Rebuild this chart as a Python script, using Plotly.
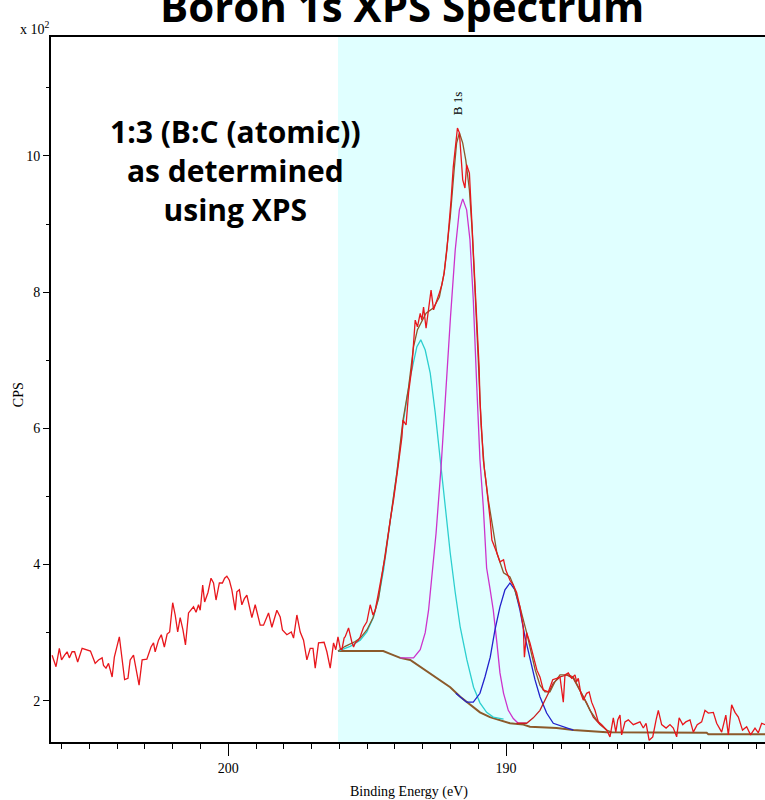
import plotly.graph_objects as go

# ---- measured spectrum (binding energy in eV, counts in units of 100 CPS) ----
raw_ev = [206.34, 206.20, 206.08, 206.00, 205.89, 205.80, 205.72, 205.62, 205.53, 205.42,
          205.26, 205.11, 204.96, 204.79, 204.67, 204.54, 204.49, 204.40, 204.31, 204.18,
          204.10, 203.92, 203.73, 203.61, 203.53, 203.41, 203.21, 203.10, 202.93, 202.78,
          202.69, 202.63, 202.51, 202.41, 202.30, 202.20, 202.11, 202.00, 201.91, 201.82,
          201.73, 201.63, 201.54, 201.43, 201.25, 201.16, 201.07, 201.01, 200.92, 200.85,
          200.73, 200.62, 200.53, 200.44, 200.32, 200.21, 200.13, 200.05, 199.96, 199.87,
          199.75, 199.69, 199.60, 199.51, 199.42, 199.33, 199.23, 199.15, 199.03, 198.85,
          198.73, 198.55, 198.43, 198.25, 198.13, 198.05, 197.89, 197.73, 197.65, 197.53,
          197.41, 197.29, 197.17, 197.05, 196.95, 196.87, 196.75, 196.55, 196.45, 196.33,
          196.21, 196.13, 196.05, 195.97, 195.91, 195.83, 195.79, 195.67, 195.55, 195.49,
          195.43, 195.31, 195.25, 195.13, 195.01, 194.89, 194.79, 194.71, 194.59, 194.47,
          194.35, 194.17, 194.05, 193.87, 193.75, 193.71, 193.60, 193.51, 193.39, 193.33,
          193.27, 193.19, 193.09, 193.03, 192.97, 192.88, 192.79, 192.70, 192.61, 192.52,
          192.40, 192.31, 192.23, 192.13, 192.05, 191.98, 191.90, 191.81, 191.75, 191.68,
          191.62, 191.56, 191.48, 191.42, 191.32, 191.27, 191.20, 191.15, 191.08, 191.03,
          190.97, 190.94, 190.87, 190.82, 190.73, 190.64, 190.57, 190.51, 190.43, 190.33,
          190.22, 190.09, 190.01, 189.86, 189.74, 189.62, 189.50, 189.38, 189.34, 189.26,
          189.14, 189.02, 188.89, 188.78, 188.66, 188.48, 188.32, 188.18, 188.06, 187.94,
          187.88, 187.76, 187.64, 187.52, 187.46, 187.40, 187.31, 187.22, 187.10, 187.01,
          186.92, 186.80, 186.68, 186.56, 186.38, 186.26, 186.14, 186.05, 185.98, 185.90,
          185.84, 185.72, 185.60, 185.42, 185.18, 185.06, 184.96, 184.85, 184.72, 184.60,
          184.52, 184.40, 184.24, 184.10, 183.98, 183.86, 183.77, 183.64, 183.53, 183.38,
          183.26, 183.12, 182.96, 182.84, 182.72, 182.54, 182.42, 182.24, 182.09, 182.00,
          181.88, 181.76, 181.64, 181.49, 181.34, 181.20, 181.04, 180.92, 180.80, 180.68]
raw_cps = [2.67, 2.50, 2.77, 2.60, 2.67, 2.72, 2.63, 2.72, 2.72, 2.57,
           2.77, 2.75, 2.73, 2.55, 2.60, 2.63, 2.52, 2.48, 2.55, 2.35,
           2.64, 2.94, 2.31, 2.33, 2.60, 2.67, 2.23, 2.60, 2.61, 2.79,
           2.85, 2.72, 2.89, 2.97, 2.79, 2.98, 3.01, 3.44, 3.26, 3.01,
           3.22, 3.04, 2.82, 3.29, 3.38, 3.30, 3.41, 3.33, 3.70, 3.45,
           3.59, 3.80, 3.73, 3.48, 3.73, 3.73, 3.80, 3.83, 3.77, 3.63,
           3.33, 3.60, 3.63, 3.41, 3.50, 3.55, 3.38, 3.22, 3.41, 3.11,
           3.11, 3.29, 3.08, 3.33, 3.23, 3.04, 2.97, 3.01, 2.92, 3.26,
           3.01, 2.89, 2.60, 2.77, 2.77, 2.48, 2.85, 2.86, 2.72, 2.48,
           2.85, 2.75, 2.94, 2.77, 2.75, 2.92, 2.94, 3.07, 2.86, 2.79,
           2.85, 2.89, 2.94, 3.08, 3.16, 3.41, 3.26, 3.33, 3.59, 3.85,
           4.12, 4.65, 4.95, 5.49, 5.87, 6.12, 6.05, 6.52, 6.90, 7.25,
           7.59, 7.49, 7.69, 7.59, 7.78, 7.47, 7.78, 8.03, 7.74, 7.84,
           7.99, 8.11, 8.28, 8.62, 8.96, 9.35, 9.84, 10.19, 10.41, 10.34,
           10.04, 9.65, 9.53, 9.87, 9.75, 9.35, 8.87, 8.33, 7.93, 7.49,
           6.90, 6.42, 5.93, 5.54, 5.24, 4.95, 4.65, 4.36, 4.26, 4.17,
           4.04, 4.07, 3.92, 3.77, 3.70, 3.59, 3.38, 3.08, 2.64, 3.00,
           2.85, 2.64, 2.45, 2.35, 2.16, 2.13, 2.31, 2.33, 2.35, 1.98,
           2.38, 2.41, 2.33, 2.38, 2.28, 2.33, 2.11, 2.01, 2.11, 2.13,
           1.98, 1.86, 1.69, 1.65, 1.57, 1.47, 1.75, 1.54, 1.72, 1.79,
           1.50, 1.69, 1.72, 1.65, 1.69, 1.60, 1.67, 1.42, 1.47, 1.72,
           1.86, 1.65, 1.60, 1.65, 1.60, 1.47, 1.75, 1.65, 1.69, 1.72,
           1.54, 1.65, 1.69, 1.86, 1.82, 1.83, 1.67, 1.54, 1.79, 1.50,
           1.94, 1.83, 1.76, 1.57, 1.62, 1.50, 1.60, 1.53, 1.67, 1.65]

# ---- fitted envelope ----
env_ev = [196.05, 195.79, 195.43, 195.25, 195.01, 194.79, 194.59, 194.47, 194.17, 193.93,
          193.71, 193.51, 193.33, 193.19, 192.88, 192.61, 192.40, 192.23, 192.13, 192.01,
          191.87, 191.78, 191.68, 191.56, 191.45, 191.32, 191.22, 191.12, 191.00, 190.90,
          190.78, 190.64, 190.50, 190.33, 190.09, 189.86, 189.74, 189.50, 189.26, 189.08,
          188.95, 188.78, 188.60, 188.42, 188.24, 188.06, 187.76, 187.58, 187.40, 187.22,
          186.98, 186.74, 186.56, 186.38, 186.20]
env_cps = [2.73, 2.80, 2.87, 2.92, 3.04, 3.22, 3.50, 3.82, 4.65, 5.35,
           6.12, 6.60, 7.20, 7.45, 7.69, 7.77, 7.93, 8.28, 8.62, 9.10,
           9.79, 10.19, 10.34, 10.19, 9.94, 9.50, 8.90, 8.12, 7.00, 6.05,
           5.40, 4.95, 4.61, 4.17, 3.88, 3.82, 3.70, 3.38, 3.00, 2.70,
           2.45, 2.23, 2.13, 2.13, 2.28, 2.38, 2.38, 2.35, 2.20, 2.06,
           1.86, 1.72, 1.65, 1.57, 1.54]

# ---- Shirley background ----
bg_ev = [196.05, 194.42, 194.17, 193.81, 193.45, 193.09, 192.73, 192.37, 192.01, 191.65,
         191.29, 190.94, 190.58, 190.22, 189.86, 189.38, 189.14, 188.18, 187.58, 186.38,
         182.78, 182.72, 180.68]
bg_cps = [2.73, 2.73, 2.69, 2.63, 2.60, 2.50, 2.41, 2.31, 2.20, 2.06,
          1.94, 1.83, 1.76, 1.72, 1.67, 1.65, 1.62, 1.60, 1.57, 1.54,
          1.53, 1.51, 1.51]

# ---- peak components ----
cyan_ev = [196.05, 195.91, 195.61, 195.25, 195.01, 194.77, 194.59, 194.41, 194.17, 193.93,
           193.69, 193.45, 193.21, 193.07, 192.91, 192.73, 192.55, 192.37, 192.19, 192.01,
           191.83, 191.65, 191.41, 191.17, 190.94, 190.70, 190.46, 190.09]
cyan_cps = [2.73, 2.75, 2.80, 2.89, 3.01, 3.23, 3.52, 3.92, 4.61, 5.35,
            6.12, 6.75, 7.20, 7.30, 7.15, 6.81, 6.23, 5.54, 4.80, 4.17,
            3.59, 3.08, 2.60, 2.20, 1.97, 1.83, 1.76, 1.73]

mag_ev = [193.81, 193.33, 193.09, 192.91, 192.79, 192.67, 192.52, 192.34, 192.16, 192.00,
          191.83, 191.68, 191.56, 191.42, 191.30, 191.18, 191.06, 190.94, 190.82, 190.70,
          190.58, 190.46, 190.33, 190.22, 190.09, 189.92, 189.74, 189.56, 189.26]
mag_cps = [2.63, 2.63, 2.75, 3.00, 3.33, 3.80, 4.46, 5.43, 6.67, 7.64,
           8.62, 9.21, 9.37, 9.21, 8.77, 7.89, 6.67, 5.54, 4.85, 3.95,
           3.65, 3.33, 2.85, 2.41, 2.11, 1.86, 1.74, 1.67, 1.67]

blue_ev = [191.81, 191.42, 191.18, 190.94, 190.76, 190.57, 190.40, 190.22, 190.04, 189.86,
           189.68, 189.50, 189.32, 189.14, 188.96, 188.78, 188.54, 188.30, 187.94, 187.58]
blue_cps = [2.11, 1.98, 1.98, 2.11, 2.35, 2.64, 3.04, 3.38, 3.63, 3.73,
            3.63, 3.33, 2.94, 2.60, 2.31, 2.06, 1.82, 1.67, 1.62, 1.57]

red_ev = [189.62, 189.26, 189.02, 188.78, 188.54, 188.30, 188.06, 187.82, 187.58, 187.34,
          187.10, 186.86, 186.62, 186.38]
red_cps = [1.67, 1.67, 1.75, 1.86, 2.06, 2.26, 2.35, 2.38, 2.33, 2.16,
           1.97, 1.76, 1.65, 1.57]

# fitting window
region_start = 196.05
x_range = [206.38, 180.68]
y_range = [1.395, 11.747]

SERIF = "Liberation Serif"

fig = go.Figure()

fig.add_shape(type="rect", xref="x", yref="paper", x0=region_start, x1=x_range[1],
              y0=0, y1=1, fillcolor="#e0ffff", line_width=0, layer="below")

def line(x, y, color, width=1.3):
    fig.add_trace(go.Scatter(x=x, y=y, mode="lines", hoverinfo="skip",
                             line=dict(color=color, width=width)))

line(bg_ev, bg_cps, "#8b5a2b", 2.0)
line(cyan_ev, cyan_cps, "#2ccfcf")
line(mag_ev, mag_cps, "#cc33cc")
line(blue_ev, blue_cps, "#2222cc")
line(red_ev, red_cps, "#c81e1e")
line(env_ev, env_cps, "#8b5a2b")
line(raw_ev, raw_cps, "#e8161c")

axis_font = dict(family=SERIF, size=14, color="black")

fig.update_xaxes(range=x_range, showline=True, linecolor="black", linewidth=2, mirror=True,
                 ticks="outside", ticklen=12, tickwidth=1, tickcolor="black",
                 tick0=200, dtick=10, showgrid=False, zeroline=False, tickfont=axis_font,
                 minor=dict(ticks="outside", tick0=200, dtick=1, ticklen=5,
                            tickcolor="black", showgrid=False))
fig.update_yaxes(range=y_range, showline=True, linecolor="black", linewidth=2,
                 ticks="outside", ticklen=6, tickwidth=1, tickcolor="black",
                 tick0=0, dtick=2, showgrid=False, zeroline=False, tickfont=axis_font,
                 minor=dict(ticks="outside", tick0=0, dtick=1, ticklen=3,
                            tickcolor="black", showgrid=False))

def note(text, x, y, font, angle=0):
    return dict(text=text, x=x, y=y, xref="paper", yref="paper", showarrow=False,
                xanchor="center", yanchor="middle", align="center",
                textangle=angle, font=font)

annotations = [
    note("<b>Boron 1s XPS Spectrum</b>", 0.491, 1.044,
         dict(family="Open Sans", size=42, color="black")),
    note("<b>1:3 (B:C (atomic))<br>as determined<br>using XPS</b>", 0.258, 0.811,
         dict(family="Open Sans", size=30, color="black")),
    note("B 1s", 0.5686, 0.906, dict(family=SERIF, size=13, color="black"), -90),
    note("CPS", -0.0462, 0.492, axis_font, -90),
    note("x 10<sup>2</sup>", -0.0224, 1.013, axis_font),
    note("Binding Energy (eV)", 0.5014, -0.0709, axis_font),
]

fig.update_layout(width=765, height=800, margin=dict(l=51, r=0, t=37, b=58),
                  paper_bgcolor="white", plot_bgcolor="white", showlegend=False,
                  annotations=annotations)

fig.write_html("out.html")
